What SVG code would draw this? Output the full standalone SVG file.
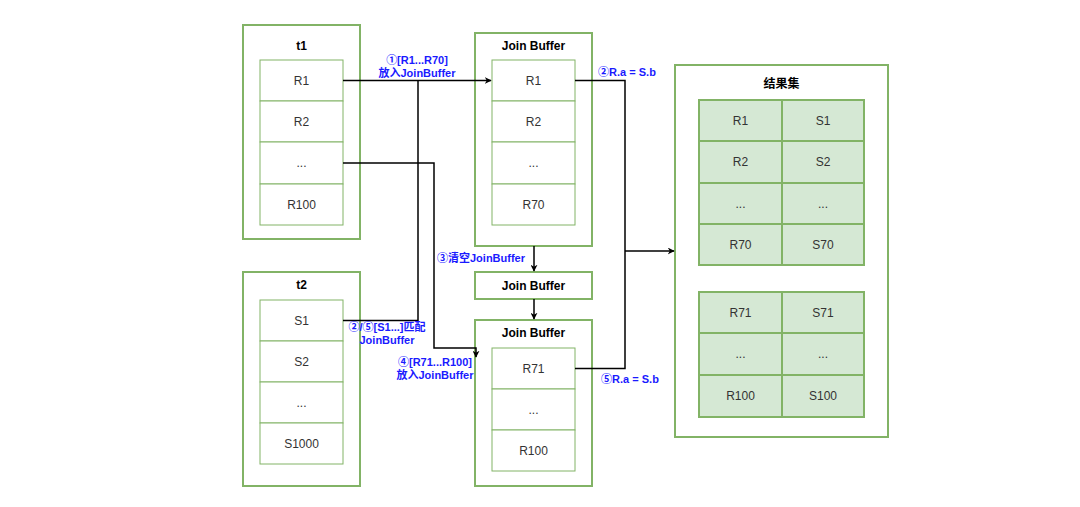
<svg xmlns="http://www.w3.org/2000/svg" width="1080" height="507" viewBox="0 0 1080 507">
<defs>
<style>
.outer{fill:#fff;stroke:#82b366;stroke-width:2}
.cell{fill:#fff;stroke:#82b366;stroke-width:1}
.gcell{fill:#d5e8d4;stroke:#82b366;stroke-width:2}
.t{font-family:"Liberation Sans","Noto Sans CJK SC",sans-serif;font-size:12px;fill:#333;text-anchor:middle;dominant-baseline:central}
.title{font-family:"Liberation Sans","Noto Sans CJK SC",sans-serif;font-size:12px;font-weight:bold;fill:#000;text-anchor:middle;dominant-baseline:central}
.lbl{font-family:"Liberation Sans","Noto Sans CJK SC",sans-serif;font-size:11px;font-weight:bold;fill:#1a1aff;text-anchor:middle;dominant-baseline:central}
.edge{fill:none;stroke:#000;stroke-width:1.5}
</style>
<marker id="arr" viewBox="0 0 10 10" refX="9" refY="5" markerWidth="7" markerHeight="7" orient="auto" markerUnits="userSpaceOnUse">
<path d="M0,0 L10,5 L0,10 L3,5 Z" fill="#000"/>
</marker>
</defs>
<rect width="1080" height="507" fill="#fff"/>

<g id="t1">
<rect class="outer" x="243" y="25" width="117" height="214"/>
<text class="title" x="301.5" y="46">t1</text>
<rect class="cell" x="260" y="60" width="83" height="41"/>
<rect class="cell" x="260" y="101" width="83" height="41"/>
<rect class="cell" x="260" y="142" width="83" height="42"/>
<rect class="cell" x="260" y="184" width="83" height="41"/>
<text class="t" x="301.5" y="80.5">R1</text>
<text class="t" x="301.5" y="121.5">R2</text>
<text class="t" x="301.5" y="163">...</text>
<text class="t" x="301.5" y="204.5">R100</text>
</g>

<g id="t2">
<rect class="outer" x="243" y="272" width="117" height="214"/>
<text class="title" x="301.5" y="285">t2</text>
<rect class="cell" x="260" y="300" width="83" height="41"/>
<rect class="cell" x="260" y="341" width="83" height="41"/>
<rect class="cell" x="260" y="382" width="83" height="41"/>
<rect class="cell" x="260" y="423" width="83" height="41"/>
<text class="t" x="301.5" y="320.5">S1</text>
<text class="t" x="301.5" y="361.5">S2</text>
<text class="t" x="301.5" y="402.5">...</text>
<text class="t" x="301.5" y="443.5">S1000</text>
</g>

<g id="jb1">
<rect class="outer" x="475" y="33" width="117" height="213"/>
<text class="title" x="533.5" y="46">Join Buffer</text>
<rect class="cell" x="492" y="60" width="83" height="41"/>
<rect class="cell" x="492" y="101" width="83" height="41"/>
<rect class="cell" x="492" y="142" width="83" height="42"/>
<rect class="cell" x="492" y="184" width="83" height="41"/>
<text class="t" x="533.5" y="80.5">R1</text>
<text class="t" x="533.5" y="121.5">R2</text>
<text class="t" x="533.5" y="163">...</text>
<text class="t" x="533.5" y="204.5">R70</text>
</g>

<g id="jb2">
<rect class="outer" x="475" y="272" width="117" height="27"/>
<text class="title" x="533.5" y="285.5">Join Buffer</text>
</g>

<g id="jb3">
<rect class="outer" x="475" y="320" width="117" height="166"/>
<text class="title" x="533.5" y="333">Join Buffer</text>
<rect class="cell" x="492" y="348" width="83" height="41"/>
<rect class="cell" x="492" y="389" width="83" height="41"/>
<rect class="cell" x="492" y="430" width="83" height="41"/>
<text class="t" x="533.5" y="368.5">R71</text>
<text class="t" x="533.5" y="409.5">...</text>
<text class="t" x="533.5" y="450.5">R100</text>
</g>

<g id="result">
<rect class="outer" x="675" y="65" width="213" height="372"/>
<text class="title" x="781.5" y="84">结果集</text>
<rect class="gcell" x="699" y="100" width="83" height="41"/>
<rect class="gcell" x="782" y="100" width="82" height="41"/>
<rect class="gcell" x="699" y="141" width="83" height="42"/>
<rect class="gcell" x="782" y="141" width="82" height="42"/>
<rect class="gcell" x="699" y="183" width="83" height="41"/>
<rect class="gcell" x="782" y="183" width="82" height="41"/>
<rect class="gcell" x="699" y="224" width="83" height="41"/>
<rect class="gcell" x="782" y="224" width="82" height="41"/>
<text class="t" x="740.5" y="120.5">R1</text><text class="t" x="823" y="120.5">S1</text>
<text class="t" x="740.5" y="162">R2</text><text class="t" x="823" y="162">S2</text>
<text class="t" x="740.5" y="203.5">...</text><text class="t" x="823" y="203.5">...</text>
<text class="t" x="740.5" y="244.5">R70</text><text class="t" x="823" y="244.5">S70</text>
<rect class="gcell" x="699" y="292" width="83" height="41"/>
<rect class="gcell" x="782" y="292" width="82" height="41"/>
<rect class="gcell" x="699" y="333" width="83" height="42"/>
<rect class="gcell" x="782" y="333" width="82" height="42"/>
<rect class="gcell" x="699" y="375" width="83" height="42"/>
<rect class="gcell" x="782" y="375" width="82" height="42"/>
<text class="t" x="740.5" y="312.5">R71</text><text class="t" x="823" y="312.5">S71</text>
<text class="t" x="740.5" y="354">...</text><text class="t" x="823" y="354">...</text>
<text class="t" x="740.5" y="396">R100</text><text class="t" x="823" y="396">S100</text>
</g>

<g id="connectors">
<path class="edge" d="M343,80.5 H491" marker-end="url(#arr)"/>
<path class="edge" d="M343,320.5 H418 V80.5"/>
<path class="edge" d="M343,163 H434 V348 H476 V357" marker-end="url(#arr)"/>
<path class="edge" d="M534,246 V271" marker-end="url(#arr)"/>
<path class="edge" d="M534,299 V319" marker-end="url(#arr)"/>
<path class="edge" d="M575,80.5 H625 V368.5 H575"/>
<path class="edge" d="M625,251 H674" marker-end="url(#arr)"/>
<text class="lbl" x="417" y="60">①[R1...R70]</text>
<text class="lbl" x="417" y="73">放入JoinBuffer</text>
<text class="lbl" x="387" y="327">②/⑤[S1...]匹配</text>
<text class="lbl" x="387" y="340">JoinBuffer</text>
<text class="lbl" x="435" y="362">④[R71...R100]</text>
<text class="lbl" x="435" y="375">放入JoinBuffer</text>
<text class="lbl" x="481" y="258">③清空JoinBuffer</text>
<text class="lbl" x="627" y="72">②R.a = S.b</text>
<text class="lbl" x="630" y="379">⑤R.a = S.b</text>
</g>
</svg>
